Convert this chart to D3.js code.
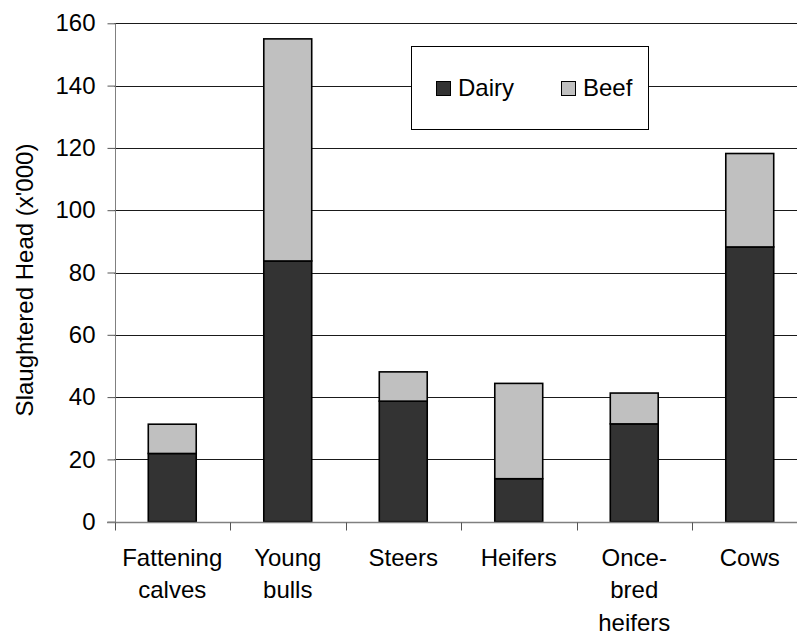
<!DOCTYPE html>
<html>
<head>
<meta charset="utf-8">
<script src="https://cdn.jsdelivr.net/npm/d3@7"></script>
<style>
  html, body { margin: 0; padding: 0; background: #fff; }
  svg { display: block; font-family: "Liberation Sans", Arial, sans-serif; }
</style>
</head>
<body>
<svg id="chart" width="797" height="635"></svg>
<script>
// Slaughtered head by animal category, split into dairy and beef breeds ('000)
const categories = ["Fattening calves", "Young bulls", "Steers", "Heifers", "Once-bred heifers", "Cows"];
const categoryLines = [["Fattening", "calves"], ["Young", "bulls"], ["Steers"], ["Heifers"], ["Once-", "bred", "heifers"], ["Cows"]];
const dairy = [21.9, 83.7, 38.7, 13.8, 31.4, 88.2];
const beef = [9.4, 71.3, 9.4, 30.6, 9.9, 30.0];
const seriesNames = ["Dairy", "Beef"];
const seriesColors = ["#333333", "#c0c0c0"];
const yTicks = [0, 20, 40, 60, 80, 100, 120, 140, 160];

const svg = d3.select("#chart");
const fontSize = 24;

const y = d3.scaleLinear().domain([0, 160]).range([521.7, 23.3]);
const x = d3.scaleBand().domain(categories).range([114.5, 807.5]).padding(0);
const barFrac = 0.415;
const barW = x.bandwidth() * barFrac;

// Horizontal gridlines
svg.append("g")
  .selectAll("line")
  .data(yTicks.filter(t => t > 0))
  .join("line")
  .attr("x1", x.range()[0]).attr("x2", x.range()[1])
  .attr("y1", d => Math.round(y(d)) + 0.5).attr("y2", d => Math.round(y(d)) + 0.5)
  .attr("stroke", "#1a1a1a").attr("stroke-width", 1);

// Stacked bars
const rows = categories.map((c, i) => ({ cat: c, Dairy: dairy[i], Beef: beef[i] }));
const stacked = d3.stack().keys(seriesNames)(rows);

svg.append("g")
  .selectAll("g")
  .data(stacked)
  .join("g")
  .attr("fill", (d, i) => seriesColors[i])
  .selectAll("rect")
  .data(d => d)
  .join("rect")
  .attr("x", d => x(d.data.cat) + (x.bandwidth() - barW) / 2)
  .attr("width", barW)
  .attr("y", d => y(d[1]))
  .attr("height", d => y(d[0]) - y(d[1]))
  .attr("stroke", "#000")
  .attr("stroke-width", 1.6);

// Y axis
const yAxis = svg.append("g")
  .attr("transform", "translate(115.5,0)")
  .call(d3.axisLeft(y).tickValues(yTicks).tickSize(8).tickPadding(12).tickFormat(d3.format("d")));
yAxis.select(".domain").attr("stroke", "#808080").attr("d", `M0,${y(160)}V${y(0) + 8}`);
yAxis.selectAll(".tick line").attr("stroke", "#555");
yAxis.selectAll(".tick text")
  .attr("font-size", fontSize)
  .attr("font-family", "Liberation Sans, Arial, sans-serif")
  .attr("fill", "#000");

// X axis baseline and category boundary ticks
const baseY = Math.round(y(0)) + 0.5;
svg.append("line")
  .attr("x1", 107).attr("x2", x.range()[1])
  .attr("y1", baseY).attr("y2", baseY)
  .attr("stroke", "#808080").attr("stroke-width", 1.5);

const boundaries = categories.map(c => x(c)).concat([x.range()[1]]);
svg.append("g")
  .selectAll("line")
  .data(boundaries)
  .join("line")
  .attr("x1", d => Math.round(d) + 0.5).attr("x2", d => Math.round(d) + 0.5)
  .attr("y1", baseY).attr("y2", baseY + 8)
  .attr("stroke", "#555");

// Category labels (multi-line)
const labels = svg.append("g")
  .attr("font-size", fontSize)
  .attr("text-anchor", "middle")
  .attr("fill", "#000");
categories.forEach((c, i) => {
  const t = labels.append("text")
    .attr("x", x(c) + x.bandwidth() / 2)
    .attr("y", 565.5);
  categoryLines[i].forEach((line, j) => {
    t.append("tspan")
      .attr("x", x(c) + x.bandwidth() / 2)
      .attr("dy", j === 0 ? 0 : 32.5)
      .text(line);
  });
});

// Y axis title
svg.append("text")
  .attr("transform", "translate(33,280) rotate(-90)")
  .attr("text-anchor", "middle")
  .attr("font-size", fontSize)
  .attr("fill", "#000")
  .text("Slaughtered Head (x'000)");

// Legend
const legend = svg.append("g");
legend.append("rect")
  .attr("x", 411.5).attr("y", 46.5)
  .attr("width", 237).attr("height", 83)
  .attr("fill", "#fff").attr("stroke", "#000").attr("stroke-width", 1);
const legendX = [436, 561];
seriesNames.forEach((name, i) => {
  legend.append("rect")
    .attr("x", legendX[i] + 0.5).attr("y", 81.5)
    .attr("width", 14).attr("height", 14)
    .attr("fill", seriesColors[i]).attr("stroke", "#000").attr("stroke-width", 1);
  legend.append("text")
    .attr("x", legendX[i] + 22).attr("y", 95.5)
    .attr("font-size", fontSize)
    .attr("fill", "#000")
    .text(name);
});
</script>
</body>
</html>
